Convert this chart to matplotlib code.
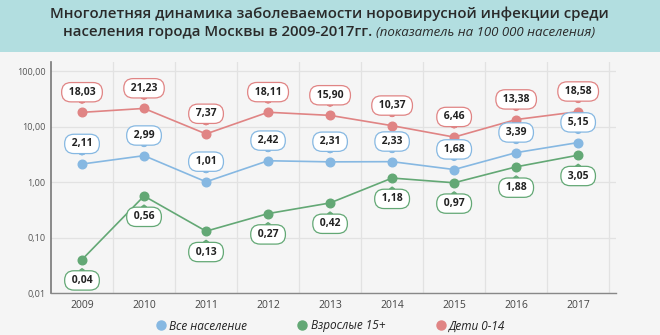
import numpy as np
import matplotlib.pyplot as plt
from matplotlib.lines import Line2D
from matplotlib.patches import Rectangle

plt.rcParams['font.family'] = ['Open Sans', 'DejaVu Sans']

YEARS = [2009, 2010, 2011, 2012, 2013, 2014, 2015, 2016, 2017]
total = [2.11, 2.99, 1.01, 2.42, 2.31, 2.33, 1.68, 3.39, 5.15]
adults = [0.04, 0.56, 0.13, 0.27, 0.42, 1.18, 0.97, 1.88, 3.05]
children = [18.03, 21.23, 7.37, 18.11, 15.90, 10.37, 6.46, 13.38, 18.58]

LABELS = ["Все население", "Взрослые 15+", "Дети 0-14"]
Y_TICKS = [0.01, 0.1, 1, 10, 100]
Y_TICK_LABELS = ["0,01", "0,10", "1,00", "10,00", "100,00"]

BLUE = "#86b8e2"
GREEN = "#63a875"
RED = "#e08484"


def fmt(v):
    return f"{v:.2f}".replace(".", ",")


fig = plt.figure(figsize=(6.6, 3.35), dpi=100, facecolor="#f5f5f5")
fig.patches.append(Rectangle((0, 1 - 52 / 335), 1, 52 / 335, transform=fig.transFigure,
                             facecolor="#b2dee0", edgecolor="none", zorder=0))

ax = fig.add_axes([51 / 660, 1 - 293 / 335, (616 - 51) / 660, (293 - 62) / 335])
ax.set_facecolor("#f5f5f5")
ax.set_yscale("log")
ax.set_ylim(0.01, 100 * 10 ** (9 / 55))
ax.set_xlim(2008.5, 2017.61)

for vals, color, below in [(total, BLUE, False), (adults, GREEN, True), (children, RED, False)]:
    ax.plot(YEARS, vals, color=color, lw=1.2, marker="o", ms=6.2, mec=color, mfc=color, zorder=3)
    for x, v in zip(YEARS, vals):
        off = -15 if below else 14.5
        ax.annotate(" " + fmt(v) + " ", (x, v), xytext=(0, off), textcoords="offset points",
                    ha="center", va="center", fontsize=7.5, fontweight="bold", color="#222222",
                    bbox=dict(boxstyle="round,pad=0.4,rounding_size=0.9", fc="white", ec=color, lw=0.9),
                    arrowprops=dict(arrowstyle="wedge,tail_width=0.45,shrink_factor=0.5",
                                    fc="white", ec=color, lw=0.9, shrinkA=0, shrinkB=6.5),
                    zorder=4)

ax.set_yticks(Y_TICKS)
ax.set_yticklabels(Y_TICK_LABELS)
ax.yaxis.set_minor_locator(plt.NullLocator())
ax.set_xticks(YEARS)
ax.set_xticks(np.arange(2009.5, 2018, 1), minor=True)
ax.tick_params(axis="y", length=0, pad=4, labelsize=6.5, labelcolor="#555555")
ax.tick_params(axis="x", which="both", length=0, pad=5, labelsize=7.5, labelcolor="#444444")
ax.grid(True, axis="y", which="major", color="#e2e2e2", lw=0.9)
ax.grid(True, axis="x", which="minor", color="#e2e2e2", lw=0.9)
ax.set_axisbelow(True)
for s in ["top", "right"]:
    ax.spines[s].set_visible(False)
ax.spines["left"].set_color("#777777")
ax.spines["left"].set_linewidth(1.2)
ax.spines["bottom"].set_color("#888888")
ax.spines["bottom"].set_linewidth(1.0)

handles = [Line2D([], [], ls="none", marker="o", ms=6.5, color=c) for c in (BLUE, GREEN, RED)]
fig.legend(handles, LABELS, loc="center", bbox_to_anchor=(0.50, 1 - 326 / 335), ncol=3,
           frameon=False, handletextpad=0.2, columnspacing=4.2, handlelength=1.0,
           prop=dict(style="italic", size=8.5))
for t in fig.legends[0].get_texts():
    t.set_color("#222222")

# title
fig.text(329 / 660, 1 - 14 / 335, "Многолетняя динамика заболеваемости норовирусной инфекции среди",
         ha="center", va="center", fontsize=10.8, fontweight="semibold", color="#2a2a2a")
t1 = fig.text(0, 1 - 32 / 335, "населения города Москвы в 2009-2017гг. ",
              ha="left", va="center", fontsize=10.8, fontweight="semibold", color="#2a2a2a")
t2 = fig.text(0, 1 - 32 / 335, "(показатель на 100 000 населения)",
              ha="left", va="center", fontsize=9.5, style="italic", color="#2a2a2a")
r = fig.canvas.get_renderer()
w1 = t1.get_window_extent(r).width
w2 = t2.get_window_extent(r).width
x0 = 329 - (w1 + w2) / 2
t1.set_x(x0 / 660)
t2.set_x((x0 + w1) / 660)

fig.savefig("out.png", dpi=100, facecolor=fig.get_facecolor())
